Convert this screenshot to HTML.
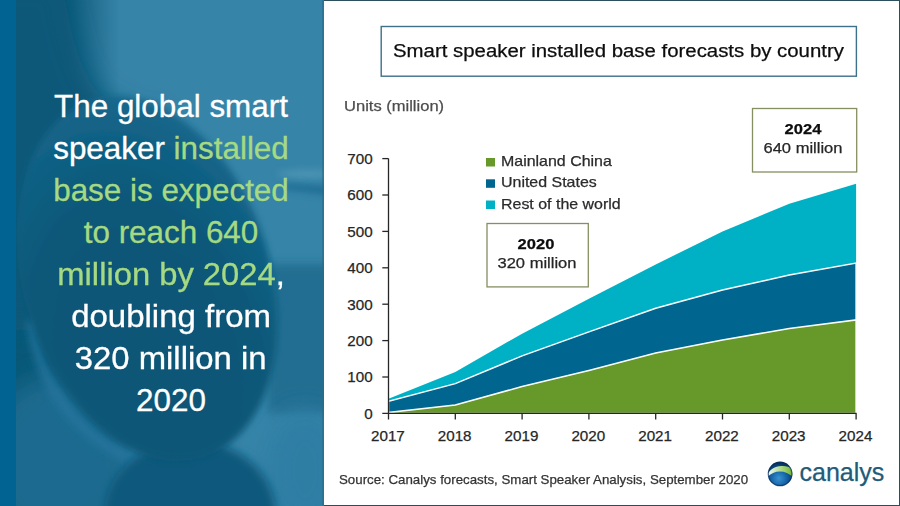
<!DOCTYPE html>
<html>
<head>
<meta charset="utf-8">
<style>
*{margin:0;padding:0;box-sizing:border-box;}
html,body{width:900px;height:506px;overflow:hidden;background:#fff;}
body{position:relative;font-family:"Liberation Sans",sans-serif;}
#left{position:absolute;left:0;top:0;width:324px;height:506px;overflow:hidden;background:#1b6688;}
#stripe{position:absolute;left:0;top:0;width:15.8px;height:506px;background:#006392;}
#lefttext{position:absolute;left:16px;width:310px;top:86.2px;text-align:center;color:#fff;font-size:31.4px;line-height:42px;-webkit-text-stroke:0.3px currentColor;}
#lefttext .g{color:#a6da82;}
#lefttext .s{display:inline-block;transform-origin:center;}
.bl{position:absolute;background:#2c4f5e;}
#chart{position:absolute;left:0;top:0;}
.t{position:absolute;white-space:nowrap;line-height:1;-webkit-text-stroke:0.25px currentColor;}
</style>
</head>
<body>
<div id="left">
<svg width="324" height="506" viewBox="0 0 324 506" style="position:absolute;left:0;top:0">
<defs>
<linearGradient id="ldark" x1="0" y1="0" x2="324" y2="0" gradientUnits="userSpaceOnUse"><stop offset="0.14" stop-color="#085878"/><stop offset="0.2" stop-color="#0c5879"/><stop offset="0.37" stop-color="#0c5879" stop-opacity="0"/></linearGradient>
<radialGradient id="sph" cx="0.4" cy="0.72" r="0.75"><stop offset="0" stop-color="#075676"/><stop offset="0.6" stop-color="#085879"/><stop offset="1" stop-color="#17688d"/></radialGradient>
<filter id="b30" x="-50%" y="-50%" width="200%" height="200%"><feGaussianBlur stdDeviation="30"/></filter>
<filter id="b12" x="-50%" y="-50%" width="200%" height="200%"><feGaussianBlur stdDeviation="12"/></filter>
<filter id="b5" x="-50%" y="-50%" width="200%" height="200%"><feGaussianBlur stdDeviation="5"/></filter>
<filter id="b3" x="-50%" y="-50%" width="200%" height="200%"><feGaussianBlur stdDeviation="3"/></filter>
</defs>
<rect x="0" y="0" width="324" height="506" fill="#3684a8"/>
<rect x="0" y="0" width="324" height="506" fill="url(#ldark)"/>
<rect x="268" y="264" width="70" height="150" fill="#216e92" filter="url(#b5)"/>
<ellipse cx="305" cy="470" rx="40" ry="60" fill="#2d7ea4" filter="url(#b12)"/>
<path d="M-20,-20 L62,-20 C70,30 78,70 100,95 C115,108 135,114 160,118 L160,330 L-20,330 Z" fill="#095879" filter="url(#b12)"/>
<ellipse cx="60" cy="460" rx="75" ry="85" fill="#1b6a8f" filter="url(#b12)"/>
<path d="M32,320 C40,390 80,440 140,462" stroke="#2676a0" stroke-width="8" fill="none" filter="url(#b5)"/>
<ellipse cx="190" cy="515" rx="86" ry="75" fill="#0a597b" filter="url(#b5)"/>
<ellipse cx="147.2" cy="279.2" rx="123.7" ry="187" transform="rotate(-17.2 147.2 279.2)" fill="url(#sph)" filter="url(#b3)"/>
<ellipse cx="308" cy="174" rx="30" ry="5" fill="#4a92b2" filter="url(#b3)"/>
<path d="M285,183 L330,186 L330,196 L285,190 Z" fill="#236f95" filter="url(#b3)"/>
<rect x="322" y="0" width="2" height="506" fill="#2a6a88" opacity="0.6"/>
</svg>
<div id="stripe"></div>
<div id="lefttext"><div>The global smart</div><div>speaker <span class="g">installed</span></div><div class="g">base is expected</div><div class="g">to reach 640</div><div><span class="s" style="transform:scaleX(1.043)"><span class="g">million by 2024</span>,</span></div><div><span class="s" style="transform:scaleX(1.051)">doubling from</span></div><div><span class="s" style="transform:scaleX(1.047)">320 million in</span></div><div>2020</div></div>
</div>
<div class="bl" style="left:324px;top:0;width:576px;height:1px;"></div>
<div class="bl" style="left:899px;top:0;width:1px;height:506px;"></div>
<div class="bl" style="left:324px;top:505px;width:576px;height:1px;"></div>
<svg id="chart" width="900" height="506" viewBox="0 0 900 506">
<defs>
<radialGradient id="glb" cx="0.45" cy="0.68" r="0.62">
<stop offset="0" stop-color="#3a92d0"/><stop offset="0.5" stop-color="#1565a8"/><stop offset="1" stop-color="#072f60"/>
</radialGradient>
<linearGradient id="gsw" x1="0" y1="0" x2="1" y2="0">
<stop offset="0.05" stop-color="#eef8f4"/><stop offset="0.35" stop-color="#c4e4b0"/><stop offset="0.7" stop-color="#94cc5c"/><stop offset="1" stop-color="#6aa834"/>
</linearGradient>
</defs>
<rect x="381.2" y="26.5" width="475.2" height="49.7" fill="#fff" stroke="#3c7189" stroke-width="1.4"/>
<polygon fill="#00b1c6" points="388.5,413.4 388.5,398.8 455.3,371.9 522.1,333.7 588.9,298.7 655.7,264.5 722.5,231.4 789.3,203.7 856.1,183.7 856.1,413.4"/>
<polygon fill="#00668f" stroke="#fff" stroke-width="1.5" points="388.5,413.4 388.5,401.4 455.3,383.6 522.1,355.9 588.9,331.9 655.7,308.2 722.5,290.0 789.3,275.1 856.1,263.1 856.1,413.4"/>
<polygon fill="#66982a" stroke="#fff" stroke-width="1.5" points="388.5,413.4 388.5,412.5 455.3,405.0 522.1,386.5 588.9,370.4 655.7,353.0 722.5,339.9 789.3,328.6 856.1,319.9 856.1,413.4"/>
<g stroke="#262626" stroke-width="1.3" fill="none">
<line x1="388.5" y1="158.6" x2="388.5" y2="419.5"/>
<line x1="382.3" y1="413.4" x2="856.6" y2="413.4"/>
<line x1="382.3" y1="377.0" x2="388.5" y2="377.0"/><line x1="382.3" y1="340.6" x2="388.5" y2="340.6"/><line x1="382.3" y1="304.2" x2="388.5" y2="304.2"/><line x1="382.3" y1="267.8" x2="388.5" y2="267.8"/><line x1="382.3" y1="231.4" x2="388.5" y2="231.4"/><line x1="382.3" y1="195.0" x2="388.5" y2="195.0"/><line x1="382.3" y1="158.6" x2="388.5" y2="158.6"/><line x1="455.3" y1="413.4" x2="455.3" y2="419.5"/><line x1="522.1" y1="413.4" x2="522.1" y2="419.5"/><line x1="588.9" y1="413.4" x2="588.9" y2="419.5"/><line x1="655.7" y1="413.4" x2="655.7" y2="419.5"/><line x1="722.5" y1="413.4" x2="722.5" y2="419.5"/><line x1="789.3" y1="413.4" x2="789.3" y2="419.5"/><line x1="856.1" y1="413.4" x2="856.1" y2="419.5"/>
</g>
<rect x="487" y="223.5" width="101.3" height="63.4" fill="#fff" stroke="#858f60" stroke-width="1.3"/>
<rect x="752.5" y="108.5" width="104.2" height="63.5" fill="#fff" stroke="#858f60" stroke-width="1.3"/>
<rect x="486" y="158" width="9" height="8.5" fill="#66982a"/>
<rect x="486" y="179.3" width="9" height="8.5" fill="#00668f"/>
<rect x="486" y="200.5" width="9" height="8.5" fill="#00b1c6"/>
<clipPath id="gc"><circle cx="780.1" cy="473.9" r="12.3"/></clipPath>
<g clip-path="url(#gc)">
<circle cx="780.1" cy="473.9" r="12.3" fill="url(#glb)"/>
<path d="M767,475 C770,469.5 775,466.4 781,466 C786,465.7 790,466.8 794,469.3 L794,478 C790,473.8 785,471.4 780,471.4 C775,471.4 771,473.2 767,477.2 Z" fill="url(#gsw)"/>
</g>
<circle cx="780.1" cy="473.9" r="11.8" fill="none" stroke="#0a2f5c" stroke-width="1.2" opacity="0.7"/>
</svg>
<div class="t" style="left:393.00px;top:41.71px;font-size:18.3px;color:#0d0d0d;transform:scaleX(1.1150);transform-origin:left 0;">Smart speaker installed base forecasts by country</div>
<div class="t" style="left:344.40px;top:97.60px;font-size:15px;color:#4d4d4d;transform:scaleX(1.1020);transform-origin:left 0;">Units (million)</div>
<div class="t" style="left:500.70px;top:153.93px;font-size:14.5px;color:#2b2b2b;transform:scaleX(1.1000);transform-origin:left 0;">Mainland China</div>
<div class="t" style="left:500.70px;top:175.23px;font-size:14.5px;color:#2b2b2b;transform:scaleX(1.1000);transform-origin:left 0;">United States</div>
<div class="t" style="left:500.70px;top:196.93px;font-size:14.5px;color:#2b2b2b;transform:scaleX(1.1000);transform-origin:left 0;">Rest of the world</div>
<div class="t" style="left:236.20px;width:600px;text-align:center;top:237.13px;font-size:14.5px;color:#0d0d0d;font-weight:bold;transform:scaleX(1.1400);transform-origin:center 0;">2020</div>
<div class="t" style="left:236.50px;width:600px;text-align:center;top:256.13px;font-size:14.5px;color:#262626;transform:scaleX(1.1400);transform-origin:center 0;">320 million</div>
<div class="t" style="left:503.40px;width:600px;text-align:center;top:122.23px;font-size:14.5px;color:#0d0d0d;font-weight:bold;transform:scaleX(1.1400);transform-origin:center 0;">2024</div>
<div class="t" style="left:503.40px;width:600px;text-align:center;top:141.23px;font-size:14.5px;color:#262626;transform:scaleX(1.1400);transform-origin:center 0;">640 million</div>
<div class="t" style="right:527.40px;text-align:right;top:405.83px;font-size:15.2px;color:#262626;">0</div>
<div class="t" style="right:527.40px;text-align:right;top:369.43px;font-size:15.2px;color:#262626;">100</div>
<div class="t" style="right:527.40px;text-align:right;top:333.03px;font-size:15.2px;color:#262626;">200</div>
<div class="t" style="right:527.40px;text-align:right;top:296.63px;font-size:15.2px;color:#262626;">300</div>
<div class="t" style="right:527.40px;text-align:right;top:260.23px;font-size:15.2px;color:#262626;">400</div>
<div class="t" style="right:527.40px;text-align:right;top:223.83px;font-size:15.2px;color:#262626;">500</div>
<div class="t" style="right:527.40px;text-align:right;top:187.43px;font-size:15.2px;color:#262626;">600</div>
<div class="t" style="right:527.40px;text-align:right;top:151.03px;font-size:15.2px;color:#262626;">700</div>
<div class="t" style="left:87.90px;width:600px;text-align:center;top:428.13px;font-size:15.2px;color:#262626;">2017</div>
<div class="t" style="left:154.70px;width:600px;text-align:center;top:428.13px;font-size:15.2px;color:#262626;">2018</div>
<div class="t" style="left:221.50px;width:600px;text-align:center;top:428.13px;font-size:15.2px;color:#262626;">2019</div>
<div class="t" style="left:288.30px;width:600px;text-align:center;top:428.13px;font-size:15.2px;color:#262626;">2020</div>
<div class="t" style="left:355.10px;width:600px;text-align:center;top:428.13px;font-size:15.2px;color:#262626;">2021</div>
<div class="t" style="left:421.90px;width:600px;text-align:center;top:428.13px;font-size:15.2px;color:#262626;">2022</div>
<div class="t" style="left:488.70px;width:600px;text-align:center;top:428.13px;font-size:15.2px;color:#262626;">2023</div>
<div class="t" style="left:555.50px;width:600px;text-align:center;top:428.13px;font-size:15.2px;color:#262626;">2024</div>
<div class="t" style="left:338.90px;top:472.90px;font-size:13px;color:#333333;transform:scaleX(1.0220);transform-origin:left 0;">Source: Canalys forecasts, Smart Speaker Analysis, September 2020</div>
<div class="t" style="left:799.50px;top:459.84px;font-size:25px;color:#215b79;">canalys</div>
</body>
</html>
